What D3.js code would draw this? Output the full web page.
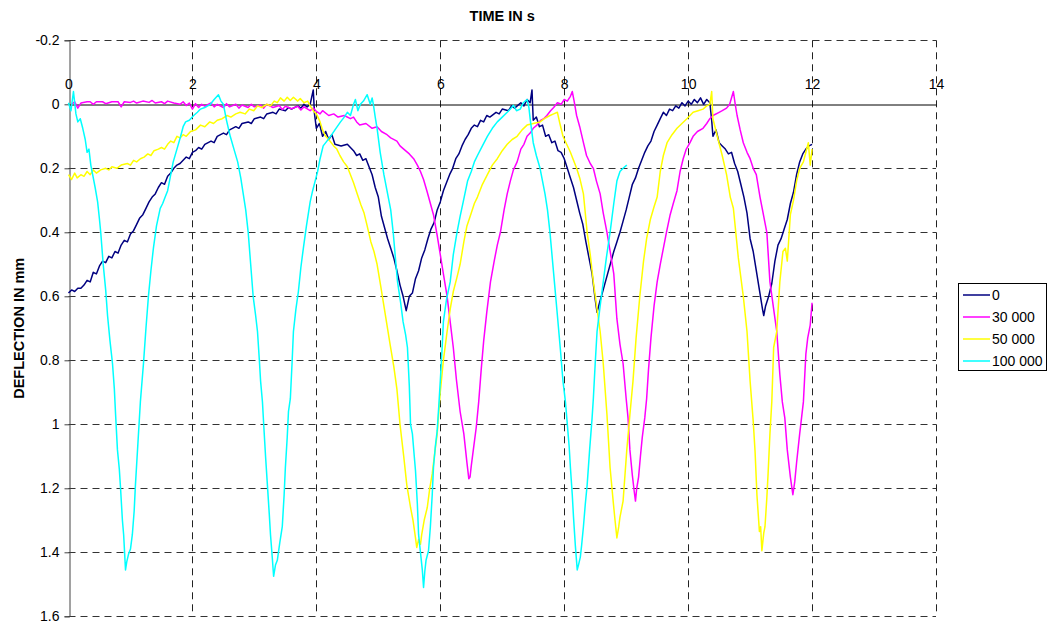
<!DOCTYPE html>
<html><head><meta charset="utf-8">
<script src="https://cdn.jsdelivr.net/npm/d3@7"></script>
<style>body{margin:0;background:#fff}svg{display:block}text{font-family:Arial,"Liberation Sans",sans-serif}</style>
</head><body><svg id="c" width="1050" height="626"></svg>
<script>
const seriesNames = ["0","30 000","50 000","100 000"];
const seriesColors = ["#000080","#FF00FF","#FFFF00","#00FFFF"];
const xTicks = [0,2,4,6,8,10,12,14];
const yTicks = [-0.2,0,0.2,0.4,0.6,0.8,1,1.2,1.4,1.6];
const xTitle = "TIME IN s";
const yTitle = "DEFLECTION IN mm";

const s0 = [[0,0.59],[0.05,0.58],[0.1,0.585],[0.15,0.575],[0.2,0.575],[0.25,0.565],[0.3,0.55],[0.35,0.555],[0.4,0.525],[0.45,0.53],[0.5,0.505],[0.55,0.49],[0.6,0.495],[0.65,0.475],[0.7,0.48],[0.75,0.46],[0.8,0.465],[0.85,0.44],[0.9,0.425],[0.95,0.43],[1.0,0.405],[1.05,0.395],[1.1,0.375],[1.15,0.355],[1.2,0.345],[1.25,0.325],[1.3,0.305],[1.35,0.29],[1.4,0.28],[1.45,0.26],[1.5,0.245],[1.55,0.25],[1.6,0.225],[1.65,0.215],[1.7,0.2],[1.75,0.19],[1.8,0.185],[1.85,0.175],[1.9,0.165],[1.95,0.17],[2.0,0.15],[2.05,0.145],[2.1,0.135],[2.15,0.14],[2.2,0.125],[2.3,0.115],[2.35,0.12],[2.4,0.1],[2.5,0.09],[2.55,0.095],[2.6,0.08],[2.7,0.07],[2.75,0.075],[2.8,0.06],[2.9,0.055],[2.95,0.06],[3.0,0.045],[3.1,0.04],[3.15,0.045],[3.2,0.03],[3.3,0.025],[3.35,0.03],[3.4,0.015],[3.5,0.02],[3.55,0.01],[3.6,0.015],[3.7,0.005],[3.75,0.012],[3.8,0.0],[3.85,0.008],[3.9,0.0],[3.95,-0.045],[3.97,0.03],[4.0,0.075],[4.05,0.06],[4.1,0.1],[4.15,0.085],[4.2,0.11],[4.25,0.095],[4.3,0.125],[4.4,0.13],[4.5,0.125],[4.55,0.135],[4.6,0.145],[4.65,0.16],[4.7,0.155],[4.75,0.175],[4.8,0.17],[4.85,0.195],[4.9,0.22],[4.95,0.26],[5.0,0.29],[5.05,0.35],[5.1,0.385],[5.15,0.42],[5.2,0.45],[5.25,0.48],[5.3,0.52],[5.35,0.565],[5.4,0.6],[5.45,0.645],[5.5,0.6],[5.55,0.59],[5.6,0.545],[5.65,0.52],[5.7,0.48],[5.75,0.455],[5.8,0.42],[5.85,0.39],[5.9,0.37],[5.95,0.33],[6.0,0.305],[6.05,0.27],[6.1,0.245],[6.15,0.22],[6.2,0.2],[6.25,0.17],[6.3,0.155],[6.35,0.13],[6.4,0.11],[6.45,0.095],[6.5,0.075],[6.55,0.065],[6.6,0.07],[6.65,0.05],[6.7,0.055],[6.75,0.035],[6.8,0.04],[6.9,0.025],[6.95,0.03],[7.0,0.015],[7.1,0.02],[7.15,0.005],[7.2,0.012],[7.3,-0.005],[7.35,0.005],[7.4,-0.015],[7.45,-0.005],[7.48,-0.045],[7.5,0.05],[7.55,0.04],[7.6,0.07],[7.65,0.065],[7.7,0.1],[7.75,0.095],[7.8,0.12],[7.85,0.115],[7.9,0.145],[7.95,0.15],[8.0,0.17],[8.05,0.2],[8.1,0.23],[8.15,0.26],[8.2,0.3],[8.25,0.34],[8.3,0.375],[8.35,0.43],[8.4,0.48],[8.45,0.53],[8.5,0.61],[8.53,0.65],[8.57,0.62],[8.6,0.6],[8.65,0.565],[8.7,0.53],[8.75,0.495],[8.8,0.46],[8.85,0.43],[8.9,0.4],[8.95,0.365],[9.0,0.33],[9.05,0.29],[9.1,0.25],[9.15,0.23],[9.2,0.2],[9.25,0.175],[9.3,0.15],[9.35,0.13],[9.4,0.115],[9.45,0.085],[9.5,0.065],[9.55,0.045],[9.6,0.025],[9.65,0.035],[9.7,0.015],[9.75,0.02],[9.8,0.005],[9.85,0.012],[9.9,-0.005],[9.95,0.005],[10.0,-0.01],[10.05,0.0],[10.1,-0.015],[10.15,-0.005],[10.2,-0.02],[10.25,0.0],[10.3,-0.015],[10.35,-0.005],[10.38,0.05],[10.4,0.1],[10.45,0.08],[10.5,0.12],[10.55,0.13],[10.6,0.14],[10.65,0.155],[10.7,0.15],[10.75,0.185],[10.8,0.21],[10.85,0.25],[10.9,0.29],[10.95,0.34],[11.0,0.42],[11.05,0.46],[11.1,0.52],[11.15,0.58],[11.2,0.64],[11.22,0.66],[11.25,0.63],[11.3,0.6],[11.35,0.56],[11.4,0.49],[11.45,0.44],[11.5,0.42],[11.55,0.39],[11.6,0.36],[11.65,0.31],[11.7,0.275],[11.75,0.22],[11.8,0.18],[11.85,0.155],[11.9,0.14],[11.95,0.13],[12.0,0.125]];

const s30 = [[0.05,0.0],[0.1,-0.008],[0.15,0.012],[0.2,-0.004],[0.3,-0.008],[0.35,-0.008],[0.4,0.0],[0.45,-0.008],[0.55,-0.008],[0.6,-0.002],[0.7,-0.008],[0.8,-0.008],[0.85,0.008],[0.9,-0.008],[1.0,-0.006],[1.05,-0.01],[1.1,-0.004],[1.2,-0.01],[1.3,-0.006],[1.35,-0.012],[1.4,-0.004],[1.5,-0.008],[1.55,-0.002],[1.6,-0.01],[1.7,-0.004],[1.8,0.0],[1.85,-0.008],[1.9,0.004],[1.95,-0.004],[2.0,0.015],[2.05,-0.002],[2.1,0.01],[2.15,0.0],[2.2,0.006],[2.3,-0.004],[2.35,0.008],[2.4,0.0],[2.5,0.01],[2.55,-0.002],[2.6,0.008],[2.7,0.0],[2.75,0.012],[2.8,0.002],[2.9,0.01],[2.95,0.0],[3.0,0.008],[3.1,0.002],[3.15,0.012],[3.2,0.0],[3.3,0.01],[3.4,0.004],[3.45,0.016],[3.5,0.006],[3.6,0.014],[3.7,0.006],[3.75,0.018],[3.8,0.008],[3.9,0.02],[3.95,0.012],[4.0,0.022],[4.06,0.03],[4.1,0.02],[4.2,0.035],[4.28,0.03],[4.35,0.04],[4.45,0.035],[4.55,0.045],[4.6,0.04],[4.65,0.055],[4.7,0.065],[4.8,0.06],[4.9,0.075],[4.98,0.07],[5.05,0.085],[5.14,0.095],[5.2,0.105],[5.3,0.115],[5.35,0.13],[5.41,0.14],[5.5,0.155],[5.57,0.17],[5.63,0.19],[5.68,0.21],[5.73,0.235],[5.79,0.275],[5.84,0.31],[5.89,0.345],[5.95,0.41],[6.0,0.47],[6.05,0.53],[6.11,0.6],[6.16,0.68],[6.21,0.76],[6.26,0.86],[6.32,0.96],[6.38,1.03],[6.43,1.12],[6.46,1.17],[6.48,1.165],[6.5,1.13],[6.54,1.07],[6.58,1.01],[6.62,0.93],[6.66,0.83],[6.7,0.74],[6.75,0.65],[6.81,0.555],[6.87,0.49],[6.92,0.44],[6.97,0.4],[7.03,0.33],[7.08,0.28],[7.13,0.24],[7.18,0.205],[7.24,0.18],[7.3,0.14],[7.35,0.125],[7.4,0.1],[7.45,0.09],[7.5,0.075],[7.56,0.065],[7.62,0.05],[7.67,0.045],[7.72,0.035],[7.78,0.02],[7.83,0.01],[7.89,-0.005],[7.95,0.0],[8.0,-0.015],[8.05,-0.01],[8.1,-0.025],[8.13,-0.04],[8.16,-0.01],[8.2,0.035],[8.25,0.07],[8.31,0.12],[8.36,0.16],[8.42,0.185],[8.47,0.2],[8.52,0.24],[8.58,0.28],[8.63,0.34],[8.69,0.4],[8.75,0.47],[8.8,0.53],[8.85,0.67],[8.9,0.75],[8.95,0.81],[9.0,0.92],[9.03,0.98],[9.06,1.08],[9.1,1.16],[9.13,1.21],[9.15,1.24],[9.17,1.2],[9.2,1.165],[9.23,1.1],[9.26,1.04],[9.3,0.98],[9.33,0.92],[9.36,0.83],[9.4,0.73],[9.45,0.63],[9.5,0.555],[9.55,0.5],[9.6,0.45],[9.65,0.4],[9.71,0.345],[9.76,0.31],[9.82,0.27],[9.87,0.21],[9.92,0.17],[9.97,0.14],[10.03,0.12],[10.08,0.1],[10.15,0.085],[10.24,0.075],[10.3,0.06],[10.35,0.045],[10.4,0.035],[10.5,0.025],[10.55,0.02],[10.62,0.012],[10.67,0.0],[10.73,-0.04],[10.76,0.0],[10.79,0.035],[10.84,0.08],[10.89,0.12],[10.95,0.15],[11.0,0.17],[11.05,0.2],[11.1,0.22],[11.16,0.29],[11.22,0.35],[11.27,0.4],[11.32,0.555],[11.38,0.64],[11.43,0.71],[11.48,0.845],[11.52,0.93],[11.56,0.98],[11.6,1.08],[11.65,1.165],[11.69,1.22],[11.72,1.18],[11.75,1.12],[11.8,1.03],[11.86,0.93],[11.9,0.78],[11.93,0.73],[11.97,0.69],[12.0,0.62]];

const s50 = [[0,0.22],[0.05,0.235],[0.1,0.215],[0.14,0.23],[0.2,0.22],[0.25,0.225],[0.3,0.21],[0.35,0.22],[0.4,0.205],[0.45,0.215],[0.52,0.205],[0.6,0.2],[0.65,0.205],[0.7,0.195],[0.78,0.2],[0.85,0.19],[0.95,0.185],[1.0,0.19],[1.05,0.175],[1.1,0.18],[1.16,0.17],[1.22,0.165],[1.28,0.155],[1.33,0.16],[1.38,0.145],[1.45,0.14],[1.5,0.135],[1.55,0.14],[1.6,0.125],[1.65,0.115],[1.7,0.12],[1.75,0.1],[1.8,0.105],[1.85,0.095],[1.9,0.1],[1.97,0.085],[2.05,0.08],[2.13,0.065],[2.2,0.07],[2.28,0.055],[2.34,0.06],[2.4,0.05],[2.48,0.045],[2.56,0.035],[2.62,0.04],[2.7,0.03],[2.77,0.025],[2.85,0.03],[2.92,0.015],[2.99,0.02],[3.05,0.005],[3.12,0.01],[3.2,0.0],[3.26,0.005],[3.32,-0.01],[3.37,-0.005],[3.42,-0.02],[3.48,-0.01],[3.53,-0.022],[3.58,-0.012],[3.63,-0.022],[3.7,-0.01],[3.74,-0.018],[3.8,-0.005],[3.86,-0.01],[3.9,0.005],[3.95,0.02],[4.0,0.03],[4.06,0.055],[4.1,0.08],[4.15,0.1],[4.2,0.11],[4.28,0.13],[4.33,0.14],[4.38,0.16],[4.44,0.18],[4.5,0.195],[4.55,0.22],[4.6,0.245],[4.66,0.28],[4.72,0.315],[4.77,0.34],[4.82,0.38],[4.88,0.43],[4.93,0.46],[4.98,0.5],[5.04,0.57],[5.09,0.63],[5.14,0.69],[5.19,0.75],[5.25,0.82],[5.3,0.89],[5.35,1.0],[5.41,1.1],[5.46,1.19],[5.52,1.26],[5.56,1.3],[5.6,1.355],[5.62,1.385],[5.65,1.36],[5.68,1.375],[5.7,1.345],[5.74,1.3],[5.79,1.26],[5.83,1.2],[5.87,1.155],[5.91,1.09],[5.95,1.03],[6.0,0.9],[6.05,0.8],[6.11,0.71],[6.16,0.64],[6.21,0.585],[6.27,0.54],[6.32,0.5],[6.38,0.43],[6.43,0.38],[6.5,0.34],[6.55,0.31],[6.6,0.29],[6.68,0.25],[6.76,0.22],[6.84,0.19],[6.92,0.17],[7.0,0.145],[7.08,0.125],[7.16,0.11],[7.24,0.1],[7.32,0.08],[7.4,0.065],[7.5,0.06],[7.61,0.055],[7.68,0.045],[7.77,0.035],[7.83,0.03],[7.89,0.025],[7.93,0.06],[7.98,0.1],[8.04,0.125],[8.1,0.15],[8.15,0.175],[8.2,0.2],[8.25,0.23],[8.31,0.28],[8.37,0.4],[8.42,0.47],[8.47,0.555],[8.53,0.64],[8.58,0.71],[8.63,0.81],[8.69,0.97],[8.74,1.135],[8.79,1.24],[8.82,1.3],[8.85,1.355],[8.88,1.32],[8.9,1.29],[8.95,1.24],[8.98,1.16],[9.01,1.08],[9.06,0.97],[9.11,0.865],[9.16,0.73],[9.22,0.6],[9.28,0.49],[9.33,0.42],[9.39,0.36],[9.45,0.32],[9.5,0.29],[9.55,0.21],[9.6,0.16],[9.66,0.12],[9.74,0.095],[9.82,0.075],[9.9,0.06],[9.98,0.045],[10.08,0.025],[10.16,0.02],[10.24,0.015],[10.3,0.005],[10.35,0.0],[10.38,-0.04],[10.4,0.045],[10.47,0.1],[10.55,0.16],[10.62,0.22],[10.68,0.29],[10.73,0.325],[10.81,0.48],[10.89,0.6],[10.95,0.71],[11.0,0.865],[11.05,0.99],[11.08,1.085],[11.11,1.22],[11.15,1.335],[11.17,1.32],[11.19,1.395],[11.22,1.34],[11.24,1.32],[11.27,1.23],[11.29,1.155],[11.32,1.03],[11.35,0.93],[11.38,0.76],[11.43,0.71],[11.48,0.555],[11.53,0.46],[11.57,0.45],[11.6,0.49],[11.65,0.345],[11.7,0.3],[11.75,0.24],[11.8,0.2],[11.86,0.18],[11.9,0.15],[11.94,0.12],[11.97,0.19],[12.0,0.14]];

const s100 = [[0,-0.005],[0.04,0.02],[0.08,-0.04],[0.12,0.03],[0.15,0.055],[0.19,0.045],[0.23,0.075],[0.27,0.11],[0.3,0.15],[0.33,0.14],[0.36,0.19],[0.39,0.22],[0.43,0.26],[0.47,0.305],[0.5,0.36],[0.52,0.4],[0.56,0.5],[0.6,0.58],[0.63,0.66],[0.67,0.74],[0.71,0.81],[0.74,0.89],[0.76,0.97],[0.79,1.08],[0.82,1.14],[0.84,1.2],[0.87,1.3],[0.89,1.345],[0.92,1.455],[0.94,1.43],[0.97,1.405],[1.0,1.39],[1.03,1.345],[1.06,1.27],[1.08,1.19],[1.12,1.06],[1.16,0.93],[1.21,0.81],[1.25,0.7],[1.29,0.6],[1.33,0.52],[1.37,0.45],[1.42,0.38],[1.48,0.325],[1.52,0.31],[1.56,0.29],[1.6,0.27],[1.65,0.22],[1.69,0.18],[1.75,0.14],[1.81,0.1],[1.85,0.07],[1.89,0.055],[1.95,0.05],[2.02,0.035],[2.08,0.025],[2.13,0.015],[2.2,0.01],[2.29,0.0],[2.35,-0.015],[2.42,-0.03],[2.46,-0.01],[2.5,0.0],[2.55,0.05],[2.61,0.1],[2.67,0.14],[2.73,0.18],[2.78,0.23],[2.82,0.28],[2.86,0.33],[2.9,0.4],[2.94,0.5],[2.98,0.6],[3.02,0.66],[3.05,0.71],[3.08,0.8],[3.1,0.865],[3.13,0.93],[3.15,1.0],[3.18,1.1],[3.21,1.19],[3.24,1.28],[3.26,1.345],[3.29,1.42],[3.31,1.475],[3.34,1.44],[3.37,1.425],[3.41,1.37],[3.45,1.32],[3.48,1.22],[3.5,1.135],[3.53,1.04],[3.55,0.96],[3.58,0.92],[3.61,0.8],[3.63,0.71],[3.67,0.64],[3.71,0.585],[3.75,0.51],[3.79,0.45],[3.84,0.38],[3.9,0.305],[3.94,0.27],[3.98,0.24],[4.02,0.21],[4.06,0.17],[4.11,0.13],[4.17,0.115],[4.23,0.1],[4.3,0.08],[4.39,0.055],[4.45,0.04],[4.5,0.025],[4.55,0.035],[4.6,0.0],[4.63,-0.015],[4.67,0.02],[4.71,0.0],[4.76,-0.01],[4.82,-0.03],[4.87,0.0],[4.9,-0.02],[4.92,0.0],[4.95,0.04],[4.98,0.075],[5.03,0.15],[5.09,0.22],[5.15,0.28],[5.2,0.33],[5.24,0.4],[5.28,0.49],[5.31,0.555],[5.36,0.62],[5.4,0.68],[5.44,0.72],[5.47,0.76],[5.5,0.88],[5.52,1.0],[5.55,1.03],[5.58,1.1],[5.6,1.145],[5.63,1.25],[5.65,1.345],[5.68,1.4],[5.71,1.455],[5.73,1.51],[5.75,1.46],[5.77,1.425],[5.79,1.41],[5.81,1.395],[5.84,1.32],[5.87,1.22],[5.89,1.135],[5.92,1.07],[5.95,1.02],[5.98,0.93],[6.0,0.865],[6.03,0.76],[6.05,0.68],[6.1,0.61],[6.16,0.555],[6.21,0.47],[6.27,0.4],[6.32,0.35],[6.37,0.305],[6.44,0.24],[6.5,0.21],[6.55,0.18],[6.6,0.16],[6.68,0.13],[6.76,0.1],[6.84,0.075],[6.92,0.055],[7.0,0.04],[7.08,0.025],[7.13,0.015],[7.18,0.003],[7.23,0.02],[7.29,0.015],[7.34,-0.005],[7.4,-0.015],[7.43,0.01],[7.45,0.045],[7.5,0.12],[7.55,0.16],[7.61,0.2],[7.65,0.24],[7.69,0.28],[7.73,0.33],[7.77,0.4],[7.83,0.53],[7.89,0.66],[7.94,0.77],[7.98,0.865],[8.02,0.93],[8.05,1.0],[8.08,1.07],[8.1,1.135],[8.13,1.22],[8.15,1.29],[8.18,1.38],[8.21,1.455],[8.23,1.44],[8.26,1.415],[8.28,1.38],[8.31,1.32],[8.34,1.25],[8.37,1.19],[8.41,1.08],[8.45,0.98],[8.47,0.92],[8.5,0.81],[8.53,0.71],[8.58,0.63],[8.63,0.555],[8.68,0.48],[8.74,0.4],[8.8,0.31],[8.85,0.24],[8.9,0.21],[8.95,0.2],[9.01,0.19]];

const seriesData = [s0, s30, s50, s100];

const svg = d3.select("#c");
const x = d3.scaleLinear().domain([0,14]).range([68.5,936]);
const y = d3.scaleLinear().domain([-0.2,1.6]).range([40.3,616.3]);
const L = x(0), R = x(14), T = y(-0.2), B = y(1.6);
const px = v => Math.round(v) + 0.5;
const FONT = "Arial, 'Liberation Sans', sans-serif";

// horizontal gridlines
const grid = svg.append("g");
grid.selectAll("line.h").data(yTicks.filter(d => d !== 0)).join("line")
  .attr("x1", L).attr("x2", R).attr("y1", d => px(y(d))).attr("y2", d => px(y(d)))
  .attr("stroke", "#333").attr("stroke-dasharray", "7,5");
// vertical gridlines
grid.selectAll("line.v").data(xTicks.filter(d => d !== 0)).join("line")
  .attr("x1", d => px(x(d))).attr("x2", d => px(x(d))).attr("y1", T).attr("y2", B)
  .attr("stroke", "#222").attr("stroke-dasharray", "7,5");

// y axis
const yAxis = d3.axisLeft(y).tickValues(yTicks).tickSize(5).tickFormat(d => String(+d.toFixed(1)));
const gy = svg.append("g").attr("transform", `translate(${px(L)},0)`).call(yAxis);
gy.select(".domain").attr("stroke", "#444");
gy.selectAll(".tick line").attr("stroke", "#444");
gy.selectAll(".tick text").attr("font-size", 14).attr("fill", "#000").attr("font-family", FONT).attr("x", -10);

// x axis at 0
const xAxis = d3.axisTop(x).tickValues(xTicks).tickSize(0).tickFormat(d => String(d));
const gx = svg.append("g").attr("transform", `translate(0,${px(y(0))})`).call(xAxis);
gx.select(".domain").attr("stroke", "#000");
gx.selectAll(".tick text").attr("font-size", 14).attr("fill", "#000").attr("font-family", FONT).attr("y", -16);

// series lines
const line = d3.line().x(d => x(d[0])).y(d => y(d[1]));
svg.append("g").selectAll("path").data(seriesData).join("path")
  .attr("d", line).attr("fill", "none")
  .attr("stroke", (d,i) => seriesColors[i]).attr("stroke-width", 1.5).attr("stroke-linejoin", "round");

// titles
svg.append("text").attr("x", (L+R)/2).attr("y", 21).attr("text-anchor", "middle")
  .attr("font-size", 14.5).attr("font-weight", "bold").text(xTitle);
svg.append("text").attr("transform", `translate(23.5,${(T+B)/2}) rotate(-90)`).attr("text-anchor", "middle")
  .attr("font-size", 14.5).attr("font-weight", "bold").text(yTitle);

// legend
const lg = svg.append("g");
lg.append("rect").attr("x", 958.5).attr("y", 283.5).attr("width", 88).attr("height", 87)
  .attr("fill", "#fff").attr("stroke", "#000");
const items = lg.selectAll("g.it").data(seriesNames).join("g").attr("transform", (d,i) => `translate(0,${295 + i*22})`);
items.append("line").attr("x1", 963).attr("x2", 990).attr("stroke", (d,i) => seriesColors[i]).attr("stroke-width", 1.5);
items.append("text").attr("x", 992).attr("dy", "0.35em").attr("font-size", 14).text(d => d);
</script></body></html>
